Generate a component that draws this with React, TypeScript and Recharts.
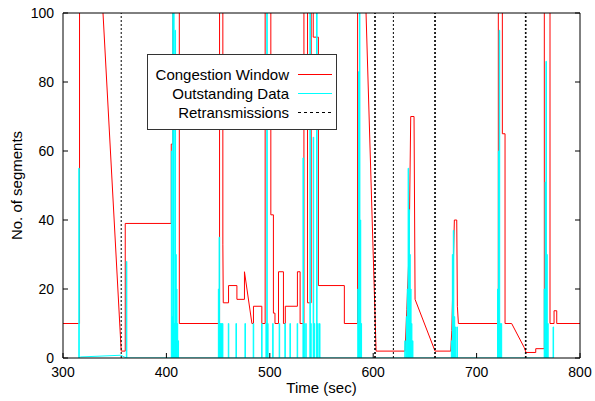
import React from 'react'
import { LineChart, Line, XAxis, YAxis, Legend } from 'recharts'

const FONT = '"Liberation Sans", Arial, Helvetica, sans-serif'

const timeTicks = [300, 400, 500, 600, 700, 800]
const segmentTicks = [0, 20, 40, 60, 80, 100]

// congestion window, [time (sec), segments]; values above 100 run off the top of the plot
const cwndPoints: [number, number][] = [
  [300, 10], [316, 10], [316, 150], [329.7, 150], [356.3, 2], [360.2, 2], [360.2, 39],
  [404.7, 39], [404.7, 62], [406.3, 62], [406.3, 150], [412.5, 150], [412.5, 10],
  [451.4, 10], [451.4, 150], [454.6, 150], [454.6, 33], [455, 16], [460.1, 16], [460.1, 21],
  [468.2, 21], [468.2, 17], [475.5, 17], [475.5, 25], [482.7, 10], [484.2, 10], [484.2, 15],
  [492.3, 15], [492.3, 10], [495.5, 10], [495.5, 150], [501, 150], [501, 41.5], [503.5, 41.5],
  [503.5, 13], [505, 13], [505, 10], [508.4, 10], [508.4, 25], [513.2, 25], [513.2, 10],
  [515, 10], [515, 15], [526.7, 15], [526.7, 25], [529.3, 25], [529.3, 10], [533, 10],
  [533, 150], [536.5, 150], [536.5, 16], [540, 16], [540, 150], [542, 150], [542, 93],
  [547, 93], [547, 21], [572.1, 21], [572.1, 10], [584.9, 10], [584.9, 150], [588.1, 150],
  [602.8, 2], [630.8, 2], [632.5, 14], [634.7, 31], [636.3, 70], [639.5, 70], [640.5, 17],
  [659.8, 2], [675, 2], [676, 8], [678.5, 40], [680.8, 40], [681.4, 15], [682.4, 10],
  [721, 10], [721, 150], [724.9, 150], [724.9, 65], [727.5, 65], [727.5, 10], [733.9, 10],
  [746.1, 3], [747.8, 1.6], [757.2, 1.6], [757.2, 2.7], [765.5, 2.7], [765.5, 150],
  [771, 150], [771, 10], [774.9, 10], [774.9, 13.7], [777.5, 13.7], [777.5, 10], [800, 10],
]

// outstanding data bursts, [time (sec), peak segments]
const outSpikes: [number, number][] = [
  [315.5, 55],
  [361.5, 28],
  [405, 60], [405.7, 12], [406.4, 130], [407.2, 110], [407.9, 10], [408.6, 95], [409.3, 30],
  [410, 20], [410.7, 10], [411.5, 5],
  [450.5, 20], [451.2, 35], [452, 10], [452.8, 10], [453.6, 10], [454.4, 10],
  [460.1, 10], [467.5, 10], [476.2, 10], [484.2, 10], [492.3, 10],
  [496.5, 10], [497.3, 130], [498.1, 10],
  [503, 10], [509.3, 10], [514.8, 10], [519.7, 10], [526.7, 10],
  [532.3, 58], [533.2, 10], [535, 10],
  [539, 130], [539.8, 10], [542.2, 64], [543.2, 10], [545.5, 130], [546.5, 10], [548.3, 10],
  [585.3, 20], [586.1, 83], [586.9, 130], [587.7, 40], [588.5, 10],
  [630.8, 5], [632.3, 12], [633.2, 20], [634, 55], [634.8, 43], [635.6, 30], [636.4, 20],
  [637.2, 10], [638.2, 5],
  [675.8, 5], [676.8, 30], [677.7, 37], [678.6, 12], [679.6, 9], [681.2, 9],
  [720.5, 20], [721.3, 60], [722.1, 95], [723, 10], [724, 10],
  [765.6, 20], [766.5, 51], [767.3, 86], [768.1, 30], [769, 10], [774.2, 9],
]
// slow creep of outstanding data while the window is stalled
const outDrift: [number, number][] = [[317, 0.3], [356, 0.8]]

const retransTimes = [356.3, 601.5, 602.0, 619.5, 659.5, 660.1, 747.2, 747.8]

const cwndData = cwndPoints.map(([t, v]) => ({ t, v }))
const outData = [
  ...outSpikes.flatMap(([t, v]) => [
    { t: t - 0.25, v: 0 },
    { t: t - 0.25, v },
    { t: t + 0.25, v },
    { t: t + 0.25, v: 0 },
  ]),
  ...outDrift.map(([t, v]) => ({ t, v })),
].sort((a, b) => a.t - b.t)
const retransData = retransTimes.flatMap((t) => [
  { t, v: 0 },
  { t, v: 100 },
  { t, v: null },
])

const BottomTick = ({ x, y, payload }: any) => (
  <g>
    <line x1={x} y1={y} x2={x} y2={y - 5} stroke="#000" />
    <text x={x} y={y + 19} textAnchor="middle" fontSize={14} fontFamily={FONT} fill="#000">
      {payload.value}
    </text>
  </g>
)
const TopTick = ({ x, y }: any) => <line x1={x} y1={y} x2={x} y2={y + 5} stroke="#000" />
const LeftTick = ({ x, y, payload }: any) => (
  <g>
    <line x1={x} y1={y} x2={x + 5} y2={y} stroke="#000" />
    <text x={x - 9} y={y + 5} textAnchor="end" fontSize={14} fontFamily={FONT} fill="#000">
      {payload.value}
    </text>
  </g>
)
const RightTick = ({ x, y }: any) => <line x1={x} y1={y} x2={x - 5} y2={y} stroke="#000" />

const TimeTitle = (props: any) => {
  const vb = props.viewBox || { x: 63, y: 358, width: 517, height: 43 }
  return (
    <text x={vb.x + vb.width / 2} y={vb.y + vb.height - 8} textAnchor="middle" fontSize={15} fontFamily={FONT} fill="#000">
      Time (sec)
    </text>
  )
}
const SegmentsTitle = (props: any) => {
  const vb = props.viewBox || { x: 0, y: 13, width: 63, height: 345 }
  const cy = vb.y + vb.height / 2
  return (
    <text x={22} y={cy} transform={`rotate(-90 22 ${cy})`} textAnchor="middle" fontSize={15} fontFamily={FONT} fill="#000">
      No. of segments
    </text>
  )
}

const LegendBox = ({ payload }: any) => (
  <div
    style={{
      boxSizing: 'border-box',
      width: 190,
      height: 76,
      paddingTop: 10,
      border: '1px solid #333',
      background: '#fff',
      fontFamily: FONT,
      fontSize: 15,
      color: '#000',
    }}
  >
    {(payload || []).map((entry: any) => (
      <div key={entry.value} style={{ display: 'flex', alignItems: 'center', height: 19, lineHeight: '19px' }}>
        <span style={{ width: 141, textAlign: 'right', whiteSpace: 'nowrap' }}>{entry.value}</span>
        <svg width={34} height={19} style={{ marginLeft: 9 }}>
          <line
            x1={0}
            y1={9.5}
            x2={34}
            y2={9.5}
            stroke={entry.color}
            strokeDasharray={entry.payload?.strokeDasharray ? '3 3' : undefined}
          />
        </svg>
      </div>
    ))}
  </div>
)

export default function App() {
  return (
    <div style={{ position: 'absolute', left: 0, top: 0, width: 595, height: 401, background: '#fff' }}>
      <LineChart width={595} height={401} margin={{ top: 0, right: 0, bottom: 0, left: 0 }}>
        <XAxis
          xAxisId="b"
          dataKey="t"
          type="number"
          domain={[300, 800]}
          ticks={timeTicks}
          interval={0}
          allowDataOverflow
          height={43}
          stroke="#000"
          tickLine={false}
          tickSize={0}
          tickMargin={0}
          tick={BottomTick}
          label={TimeTitle}
        />
        <XAxis
          xAxisId="t"
          orientation="top"
          type="number"
          domain={[300, 800]}
          ticks={timeTicks}
          interval={0}
          allowDataOverflow
          height={13}
          stroke="#000"
          tickLine={false}
          tickSize={0}
          tickMargin={0}
          tick={TopTick}
        />
        <YAxis
          yAxisId="l"
          type="number"
          domain={[0, 100]}
          ticks={segmentTicks}
          interval={0}
          allowDataOverflow
          width={63}
          stroke="#000"
          tickLine={false}
          tickSize={0}
          tickMargin={0}
          tick={LeftTick}
          label={SegmentsTitle}
        />
        <YAxis
          yAxisId="r"
          orientation="right"
          type="number"
          domain={[0, 100]}
          ticks={segmentTicks}
          interval={0}
          allowDataOverflow
          width={15}
          stroke="#000"
          tickLine={false}
          tickSize={0}
          tickMargin={0}
          tick={RightTick}
        />
        <Legend
          layout="horizontal"
          verticalAlign="middle"
          align="center"
          content={LegendBox}
          wrapperStyle={{ left: 147, top: 54, width: 190, height: 76 }}
        />
        <Line
          xAxisId="b"
          yAxisId="l"
          data={cwndData}
          dataKey="v"
          name="Congestion Window"
          stroke="#ff0000"
          strokeWidth={1}
          dot={false}
          activeDot={false}
          isAnimationActive={false}
        />
        <Line
          xAxisId="b"
          yAxisId="l"
          data={outData}
          dataKey="v"
          name="Outstanding Data"
          stroke="#00ffff"
          strokeWidth={1}
          dot={false}
          activeDot={false}
          isAnimationActive={false}
        />
        <Line
          xAxisId="b"
          yAxisId="l"
          data={retransData}
          dataKey="v"
          name="Retransmissions"
          stroke="#000"
          strokeWidth={1}
          strokeDasharray="2 2"
          dot={false}
          activeDot={false}
          isAnimationActive={false}
        />
      </LineChart>
    </div>
  )
}
